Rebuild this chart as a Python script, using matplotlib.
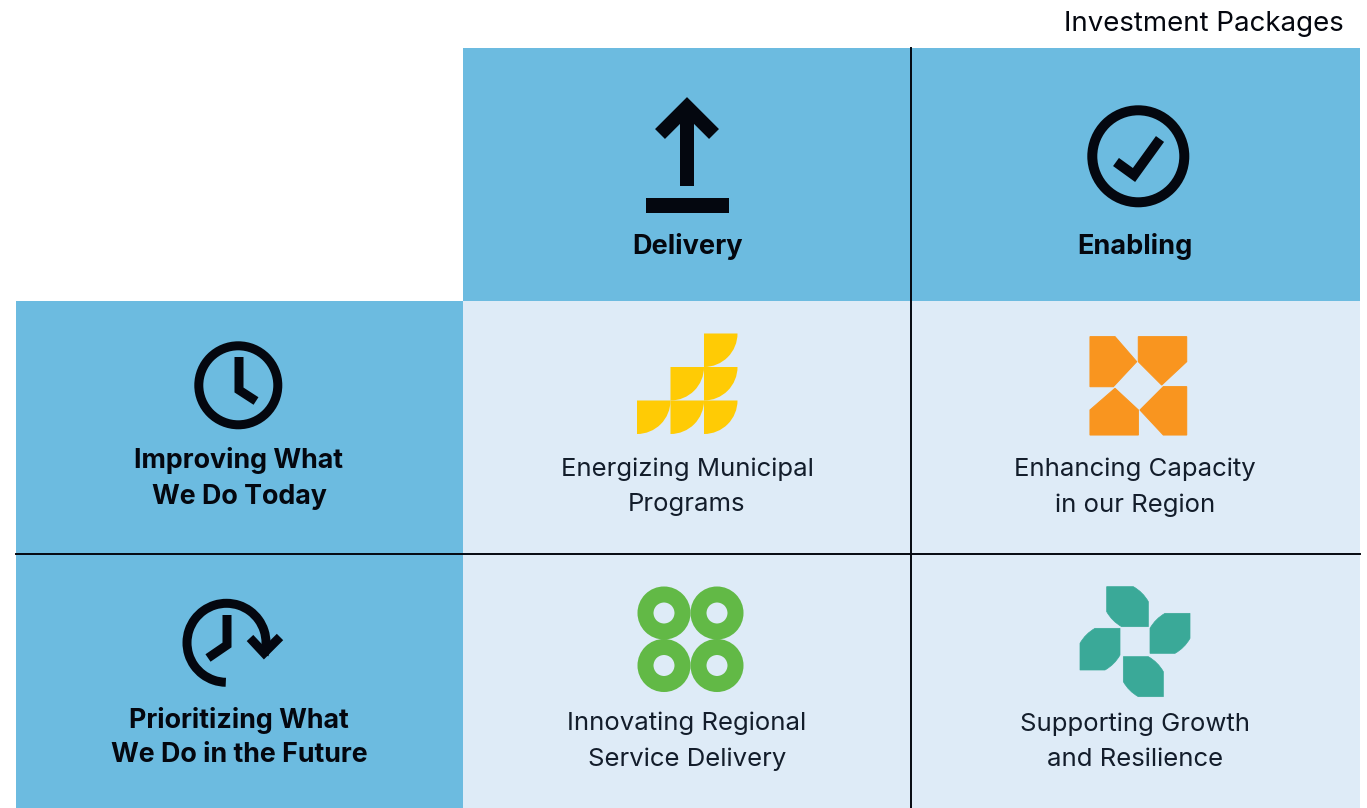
"""Investment Packages: 2x2 matrix drawn in pixel coordinates."""
import matplotlib
matplotlib.use("Agg")
import matplotlib.pyplot as plt
from matplotlib.patches import Arc, Circle, PathPatch, Polygon, Rectangle, Wedge
from matplotlib.path import Path

TITLE = "Investment Packages"
COLUMN_LABELS = ["Delivery", "Enabling"]
ROW_LABELS = ["Improving What\nWe Do Today", "Prioritizing What\nWe Do in the Future"]
CELL_LABELS = [["Energizing Municipal\nPrograms", "Enhancing Capacity\nin our Region"],
               ["Innovating Regional\nService Delivery", "Supporting Growth\nand Resilience"]]

BLUE = "#6cbbe0"
LIGHT = "#deebf7"
YELLOW = "#ffcb05"
ORANGE = "#f9951f"
GREEN = "#62b946"
TEAL = "#3aa998"
INK = "#04070f"

XS = [16, 463, 911, 1360]
YS = [48, 301, 554, 808]

plt.rcParams["font.family"] = ["Inter", "DejaVu Sans"]

fig = plt.figure(figsize=(13.67, 8.08), dpi=100)
ax = fig.add_axes([0, 0, 1, 1])
ax.set_xlim(0, 1367)
ax.set_ylim(808, 0)
ax.axis("off")


def px(w):
    return w * 0.72


def stroke(xs, ys, width=9, cap="butt", join="miter"):
    ax.plot(xs, ys, color=INK, lw=px(width), solid_capstyle=cap, solid_joinstyle=join, zorder=4)


def zoomed(points, x0, y0):
    return [(x0 + x / 3, y0 + y / 3) for x, y in points]


def petal(x0, y0, x1, y1, main_diagonal, cut=15, bulge=0.36):
    # square with two opposite corners cut off by a slightly convex edge
    b = cut * bulge
    if main_diagonal:
        verts = [(x0 + cut, y1), (x0 + b, y1 - b), (x0, y1 - cut), (x0, y0), (x1 - cut, y0),
                 (x1 - b, y0 + b), (x1, y0 + cut), (x1, y1), (x0 + cut, y1), (x0 + cut, y1)]
    else:
        verts = [(x0, y0 + cut), (x0 + b, y0 + b), (x0 + cut, y0), (x1, y0), (x1, y1 - cut),
                 (x1 - b, y1 - b), (x1 - cut, y1), (x0, y1), (x0, y0 + cut), (x0, y0 + cut)]
    codes = [Path.MOVETO, Path.CURVE3, Path.CURVE3, Path.LINETO, Path.LINETO,
             Path.CURVE3, Path.CURVE3, Path.LINETO, Path.LINETO, Path.CLOSEPOLY]
    return PathPatch(Path(verts, codes), fc=TEAL, ec=TEAL, lw=0.5, zorder=4)


# panels
ax.add_patch(Rectangle((XS[1], YS[0]), XS[3] - XS[1], YS[1] - YS[0], fc=BLUE, ec="none"))
ax.add_patch(Rectangle((XS[0], YS[1]), XS[1] - XS[0], YS[3] - YS[1], fc=BLUE, ec="none"))
ax.add_patch(Rectangle((XS[1], YS[1]), XS[3] - XS[1], YS[3] - YS[1], fc=LIGHT, ec="none"))
ax.plot([XS[2], XS[2]], [YS[0], YS[3]], color=INK, lw=1.4, zorder=3)
ax.plot([XS[0], XS[3]], [YS[2], YS[2]], color=INK, lw=1.4, zorder=3)

# text
ax.text(1344, 24, TITLE, ha="right", va="center", fontsize=19.9, color=INK)
for x, label in zip([687, 1135], COLUMN_LABELS):
    ax.text(x, 247, label, ha="center", va="center", fontsize=19.5, fontweight="bold", color=INK)
for y, label in zip([478.5, 737.5], ROW_LABELS):
    ax.text(239, y, label, ha="center", va="center", fontsize=19.3, fontweight="bold",
            color=INK, linespacing=1.45)
for y, row in zip([487, 741.5], CELL_LABELS):
    for x, label in zip([687, 1135], row):
        ax.text(x, y, label, ha="center", va="center", fontsize=18.5, color="#131d2b", linespacing=1.66)

# arrow icon
stroke([687, 687], [108, 186], 14)
stroke([660, 687, 714], [134, 107, 134], 14)
ax.add_patch(Rectangle((646, 198), 83, 15, fc=INK, ec="none", zorder=4))

# check icon
ax.add_patch(Circle((1138.3, 156.3), 46, fc="none", ec=INK, lw=px(10), zorder=4))
stroke([1116, 1134, 1160], [162, 175, 139], 10)

# clock icon
ax.add_patch(Circle((238.3, 385.3), 39.5, fc="none", ec=INK, lw=px(9), zorder=4))
stroke([239, 239, 256], [357, 390, 401], 9)

# clock with arrow icon
ax.add_patch(Arc((226.5, 642.8), 79, 79, theta1=91, theta2=378, ec=INK, lw=px(9), zorder=4))
stroke([227, 227, 208], [615, 645, 658], 9)
stroke([250, 264, 280], [638, 653, 637], 9)

# yellow tiles
for col, row in [(2, 0), (1, 1), (2, 1), (0, 2), (1, 2), (2, 2)]:
    x0, y0 = 637 + col * 33.5, 333.5 + row * 33.5
    ax.add_patch(Wedge((x0, y0), 33.5, 0, 90, fc=YELLOW, ec="none", zorder=4))

# orange tiles
orange_tiles = [
    [(60, 50), (135, 50), (200, 125), (130, 200), (60, 200)],
    [(205, 50), (350, 50), (350, 125), (275, 195), (205, 125)],
    [(350, 200), (350, 345), (280, 345), (210, 270), (280, 200)],
    [(60, 345), (60, 270), (135, 205), (205, 270), (205, 345)],
]
for tile in orange_tiles:
    ax.add_patch(Polygon(zoomed(tile, 1070, 320), fc=ORANGE, ec=ORANGE, lw=0.8, zorder=4))

# green rings
for cx in [664, 717]:
    for cy in [613, 665.5]:
        ax.add_patch(Circle((cx, cy), 18.5, fc="none", ec=GREEN, lw=px(16), zorder=4))

# teal petals
for box, main_diagonal in [((125, 35, 250, 155), True), ((255, 115, 375, 235), False),
                           ((175, 245, 295, 365), True), ((45, 160, 165, 285), False)]:
    (x0, y0), (x1, y1) = zoomed([box[:2], box[2:]], 1065, 575)
    ax.add_patch(petal(x0, y0, x1, y1, main_diagonal))

fig.savefig("out.png", dpi=100)
plt.close(fig)
